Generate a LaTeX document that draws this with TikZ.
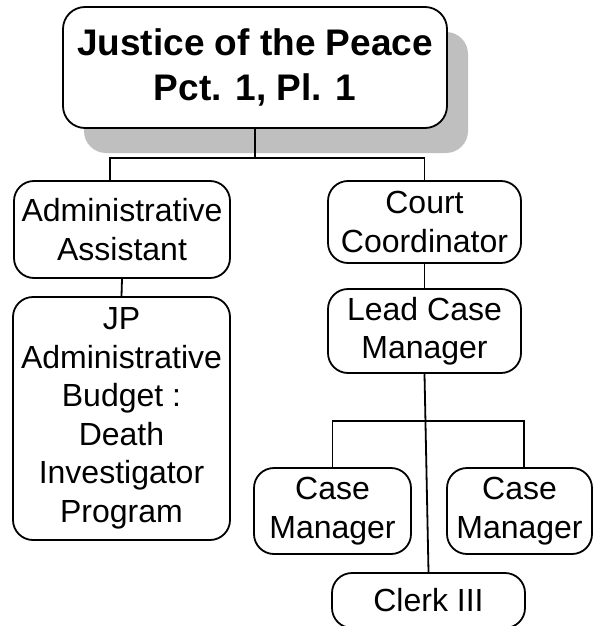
\documentclass[tikz,border=0pt]{standalone}
\usepackage{fontspec}
\setmainfont{Liberation Sans}
\usetikzlibrary{shadows,calc}

\begin{document}
\begin{tikzpicture}[x=1pt, y=-1pt,
    box/.style={draw, line width=1.8pt, rounded corners=20pt, fill=white, inner sep=0pt, align=center,
        font=\fontsize{32}{38.5}\selectfont},
    link/.style={line width=1.8pt}]
\useasboundingbox (0,0) rectangle (594,626);

% Top of the chart
\node[box, minimum width=384pt, minimum height=121pt, rounded corners=22pt,
    font=\bfseries\fontsize{37}{45}\selectfont,
    drop shadow={shadow xshift=21pt, shadow yshift=-25pt, fill=black!25, opacity=1}]
    (justice) at (255,67.5) {Justice of the Peace\\Pct. 1, Pl. 1};

% Left branch
\node[box, minimum width=216pt, minimum height=97pt] (assistant) at (122,229.5) {Administrative\\Assistant};
\node[box, minimum width=217pt, minimum height=243pt] (budget) at (121.5,418.5)
    {JP\\Administrative\\Budget :\\Death\\Investigator\\Program};

% Right branch
\node[box, minimum width=193pt, minimum height=82pt] (coordinator) at (424.5,222) {Court\\Coordinator};
\node[box, minimum width=193pt, minimum height=84pt] (lead) at (424.5,331) {Lead Case\\Manager};
\node[box, minimum width=157pt, minimum height=86pt] (caseA) at (332.5,511) {Case\\Manager};
\node[box, minimum width=145pt, minimum height=86pt] (caseB) at (519.5,511) {Case\\Manager};
\node[box, minimum width=193pt, minimum height=55pt] (clerk) at (428.5,600.5) {Clerk III};

% Connectors
\draw[link] (justice.south) -- ++(0,29) coordinate (topbus);
\draw[link] ([xshift=-12pt]assistant.north) |- (topbus) -| (coordinator.north);
\draw[link] (assistant.south) -- (budget.north);
\draw[link] (coordinator.south) -- (lead.north);
\draw[link] (lead.south) -- (clerk.north);
\coordinate (casebus) at (425,421);
\draw[link] (caseA.north) |- (casebus) -| ([xshift=4.5pt]caseB.north);

\end{tikzpicture}
\end{document}
